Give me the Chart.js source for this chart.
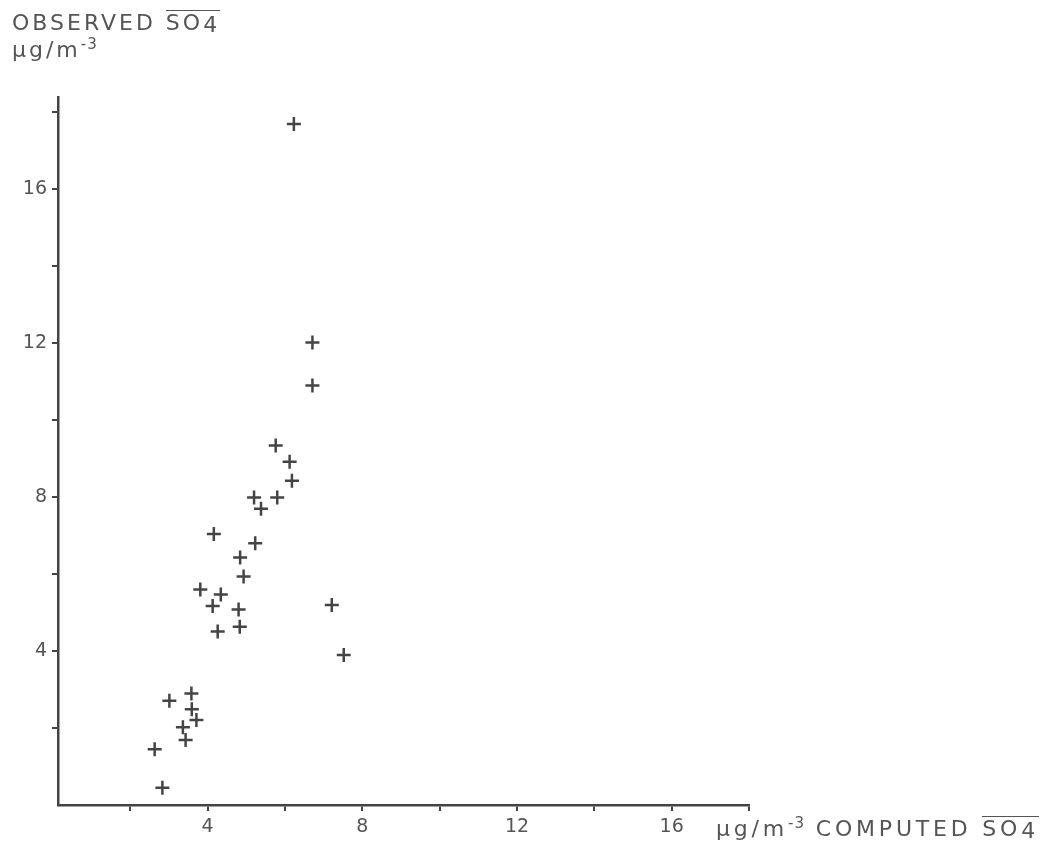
<!DOCTYPE html>
<html lang="en">
<head>
  <meta charset="UTF-8">
  <title>Observed vs computed SO4</title>
  <script src="https://cdn.jsdelivr.net/npm/chart.js"></script>
  <style>
    body { margin: 0; background: #fff; }
    #wrap { position: relative; width: 1047px; height: 859px; }
    .lbl {
      position: absolute;
      font-family: "DejaVu Sans", sans-serif;
      font-size: 22px;
      color: #555;
      letter-spacing: 3px;
      white-space: nowrap;
      line-height: 1;
    }
    .so4 { display: inline-block; border-top: 1.5px solid #555; padding-top: 1px; line-height: 1; }
    .sub4 { position: relative; top: 2px; }
    sup { font-size: 15px; vertical-align: 0; position: relative; top: -8px; letter-spacing: 1px; }
  </style>
</head>
<body>
  <div id="wrap">
    <canvas id="chart" width="1047" height="859"></canvas>
    <!-- titres des axes -->
    <div class="lbl" style="left: 12px; top: 10px;">OBSERVED <span class="so4">SO<span class="sub4">4</span></span></div>
    <div class="lbl" style="left: 12px; top: 39px;">μg/m<sup>-3</sup></div>
    <div class="lbl" style="left: 716px; top: 816px; letter-spacing: 3.8px;">μg/m<sup>-3</sup> COMPUTED <span class="so4">SO<span class="sub4">4</span></span></div>
  </div>

  <script>
    // valores
    const computed = [6.23, 6.71, 6.71, 5.76, 6.12, 6.18, 5.20, 5.38, 5.80, 4.16,
                      5.23, 4.84, 4.93, 3.81, 4.34, 4.13, 4.80, 4.26, 4.83, 7.21,
                      7.52, 3.01, 3.58, 3.59, 3.71, 3.36, 3.43, 2.63, 2.83];
    const observed = [17.70, 12.02, 10.90, 9.34, 8.92, 8.43, 7.99, 7.70, 7.99, 7.04,
                      6.80, 6.43, 5.94, 5.60, 5.47, 5.17, 5.08, 4.51, 4.63, 5.20,
                      3.90, 2.71, 2.90, 2.49, 2.21, 2.02, 1.69, 1.45, 0.45];
    const tickValues = [2, 4, 6, 8, 10, 12, 14, 16, 18];
    const tickLabels = [4, 8, 12, 16];

    const points = computed.map((x, i) => ({ x: x, y: observed[i] }));

    const ink = '#444';
    const tickFont = { family: 'DejaVu Sans', size: 19 };

    function setTicks(scale) {
      scale.ticks = tickValues.map(v => ({ value: v }));
    }
    function labelOf(v) {
      return tickLabels.includes(v) ? String(v) : '';
    }

    new Chart(document.getElementById('chart'), {
      type: 'scatter',
      data: {
        datasets: [{
          data: points,
          pointStyle: 'cross',
          pointRadius: 7,
          pointBorderWidth: 2.5,
          borderColor: ink,
          backgroundColor: ink
        }]
      },
      options: {
        responsive: false,
        animation: false,
        layout: { padding: { top: 97, right: 298, left: 0, bottom: 0 } },
        plugins: { legend: { display: false }, tooltip: { enabled: false } },
        scales: {
          x: {
            type: 'linear',
            min: 0.13,
            max: 18,
            afterBuildTicks: setTicks,
            afterFit: (s) => { s.height = 54; },
            border: { color: ink, width: 2.5 },
            grid: { drawOnChartArea: false, drawTicks: true, tickLength: 6, color: ink, lineWidth: 2 },
            ticks: { callback: labelOf, autoSkip: false, maxRotation: 0, padding: 5, color: '#555', font: tickFont }
          },
          y: {
            type: 'linear',
            min: 0,
            max: 18.4,
            afterBuildTicks: setTicks,
            afterFit: (s) => { s.width = 58; },
            border: { color: ink, width: 2.5 },
            grid: { drawOnChartArea: false, drawTicks: true, tickLength: 6, color: ink, lineWidth: 2 },
            ticks: { callback: labelOf, autoSkip: false, padding: 5, color: '#555', font: tickFont }
          }
        }
      }
    });
  </script>
</body>
</html>
